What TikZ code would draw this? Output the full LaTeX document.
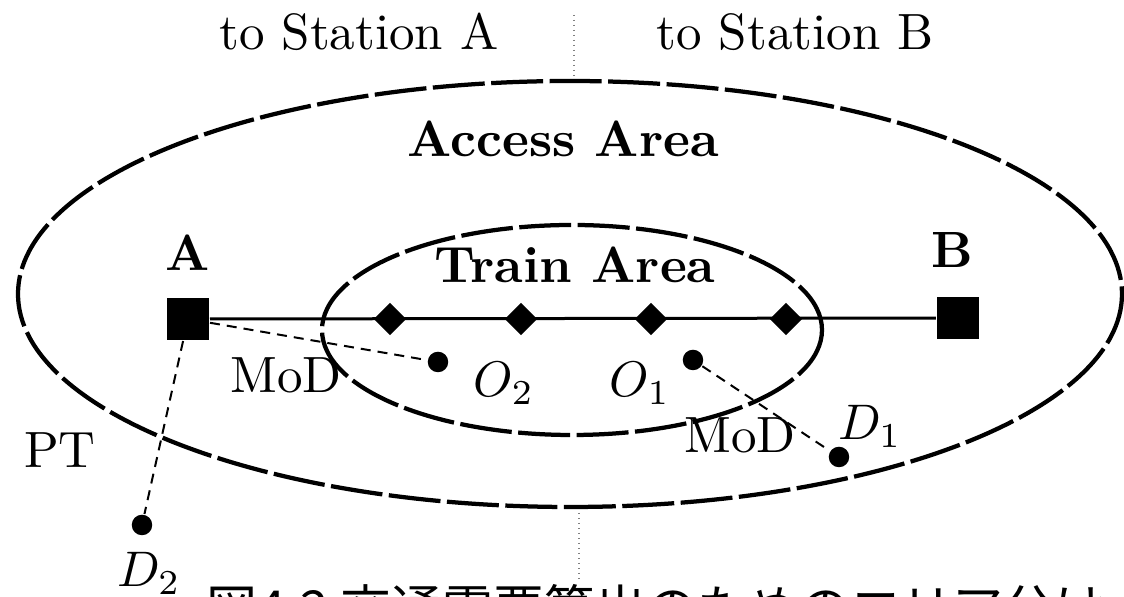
\documentclass[tikz,border=0pt]{standalone}
\usepackage{fontspec}
\newfontfamily\cjk{Noto Sans CJK JP}
\usetikzlibrary{shapes.geometric}
\tikzset{
  area/.style={line width=0.85pt, dash pattern=on 10.4pt off 1.3pt},
  track/.style={line width=0.6pt},
  trip/.style={line width=0.4pt, dash pattern=on 2pt off 1.4pt},
  divider/.style={line width=0.3pt, gray, dash pattern=on 0.3pt off 0.7pt},
  station/.style={rectangle, fill=black, draw=none, minimum size=8.4pt, inner sep=0pt},
  stop/.style={diamond, fill=black, draw=none, minimum width=6.6pt, minimum height=6.6pt, inner sep=0pt},
  place/.style={circle, fill=black, draw=none, minimum size=4.1pt, inner sep=0pt},
  lbl/.style={inner sep=0pt, anchor=base, font=\fontsize{10.2pt}{12pt}\selectfont},
  blbl/.style={lbl, font=\fontsize{10.2pt}{12pt}\selectfont\bfseries},
}
\begin{document}
\begin{tikzpicture}[x=0.2pt,y=-0.2pt]
\useasboundingbox (0,0) rectangle (1124,597);
\fill[white] (0,0) rectangle (1124,597);
\clip (0,0) rectangle (1124,597);

% divider
\coordinate (t1) at (574,15);
\coordinate (t2) at (574,80);
\coordinate (b1) at (579,508);
\coordinate (b2) at (579,582);
\draw[divider] (t1) -- (t2);
\draw[divider] (b1) -- (b2);

\node[lbl] (sa) at (359,50) {to Station A};
\node[lbl] (sb) at (795,50) {to Station B};

% areas
\draw[area] (570,294) ellipse [x radius=552, y radius=213];
\draw[area] (572,330) ellipse [x radius=250, y radius=105];
\node[blbl] (acc) at (563,157) {Access Area};
\node[blbl] (tra) at (575,283) {Train Area};

% stations
\node[station] (A) at (188,319) {};
\node[station] (B) at (958,318) {};
\node[blbl] (la) at (188,271) {A};
\node[blbl] (lb) at (952,268) {B};
\draw[track] (A) -- (B);
\node[stop] (s1) at (390,319) {};
\node[stop] (s2) at (521,319) {};
\node[stop] (s3) at (651,319) {};
\node[stop] (s4) at (786,319) {};

% places
\node[place] (o2) at (438,362) {};
\node[place] (o1) at (693,360) {};
\node[place] (d1) at (839,457) {};
\node[place] (d2) at (142,525) {};
\draw[trip] (A) -- (o2);
\draw[trip] (A) -- (d2);
\draw[trip] (o1) -- (d1);

\node[lbl] (m1) at (286,393) {MoD};
\node[lbl] (m2) at (740,453) {MoD};
\node[lbl] (pt) at (60,468) {PT};
\node[lbl] (lo2) at (504,397) {$O_2$};
\node[lbl] (lo1) at (640,397) {$O_1$};
\node[lbl] (ld1) at (870,440) {$D_1$};
\node[lbl] (ld2) at (149,587) {$D_2$};

% caption (cut off by the frame, as in the reference)
\node[inner sep=0pt, anchor=base west, font=\cjk\fontsize{10.2pt}{12pt}\selectfont] (cap) at (206,628) {図4.2 交通需要算出のためのエリア分け};
\end{tikzpicture}
\end{document}
